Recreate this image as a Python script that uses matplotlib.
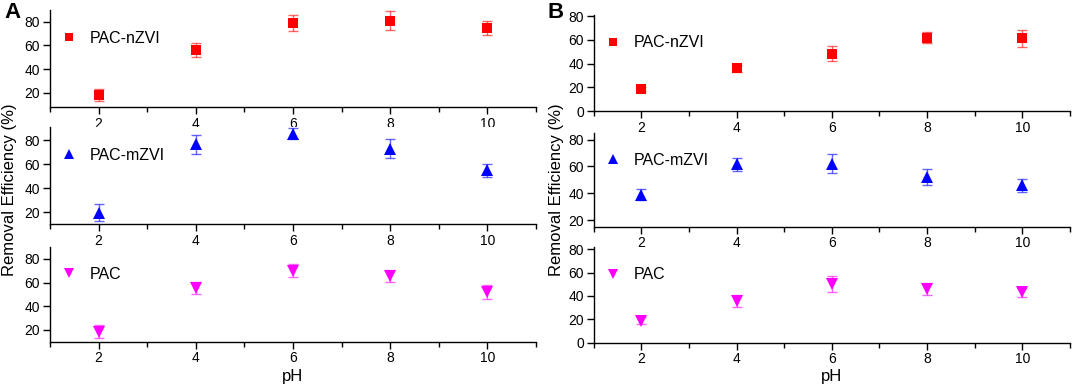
import matplotlib
matplotlib.use("Agg")
import matplotlib.pyplot as plt
from matplotlib.ticker import MultipleLocator
from matplotlib.lines import Line2D

plt.rcParams['font.family'] = ['Liberation Sans', 'DejaVu Sans']

ph = [2, 4, 6, 8, 10]

# panel A
a_nzvi = [18.3, 56.3, 79.0, 80.8, 75.0]
a_nzvi_err = [5.0, 6.0, 7.0, 8.0, 6.0]
a_mzvi = [19.5, 76.5, 85.5, 73.0, 55.0]
a_mzvi_err = [7.0, 8.0, 4.5, 8.0, 5.5]
a_pac = [18.5, 55.5, 70.0, 65.5, 52.0]
a_pac_err = [5.5, 5.0, 5.5, 5.0, 6.0]

# panel B
b_nzvi = [18.5, 36.0, 48.5, 62.0, 61.3]
b_nzvi_err = [2.0, 3.0, 6.0, 5.0, 7.0]
b_mzvi = [39.0, 61.5, 62.0, 52.0, 46.0]
b_mzvi_err = [4.0, 5.0, 7.0, 6.0, 5.0]
b_pac = [18.6, 36.0, 50.5, 46.0, 43.0]
b_pac_err = [3.0, 5.0, 7.0, 5.0, 4.0]

names = ["PAC-nZVI", "PAC-mZVI", "PAC"]
colors = ["#ff0000", "#0000ff", "#ff00ff"]
markers = ["s", "^", "v"]

fig = plt.figure(figsize=(10.72, 3.86), dpi=100)

panels = [
    ([a_nzvi, a_mzvi, a_pac], [a_nzvi_err, a_mzvi_err, a_pac_err],
     0.0466, 0.4534,
     [(0.7228, 0.2513), (0.4197, 0.2513), (0.1148, 0.2450)],
     [(8, 90), (10, 91), (10, 90)], [20, 20, 20]),
    ([b_nzvi, b_mzvi, b_pac], [b_nzvi_err, b_mzvi_err, b_pac_err],
     0.554, 0.444,
     [(0.7124, 0.2487), (0.4127, 0.2427), (0.1122, 0.2480)],
     [(0, 81), (15, 85), (0, 82)], [0, 20, 0]),
]

for series, errs, left, width, rows, ylims, ystart in panels:
    for i in range(3):
        bottom, height = rows[i]
        ax = fig.add_axes([left, bottom, width, height])
        ms = 7 if markers[i] == "s" else 8
        ax.errorbar(ph, series[i], yerr=errs[i], fmt='none',
                    ecolor=colors[i], elinewidth=1.0, capsize=3.5, capthick=1.0,
                    alpha=0.6)
        ax.plot(ph, series[i], markers[i], color=colors[i], markersize=ms,
                markeredgewidth=0)
        ax.set_xlim(1, 11)
        ax.set_ylim(*ylims[i])
        ax.set_xticks(ph)
        ax.xaxis.set_minor_locator(MultipleLocator(1))
        ax.set_yticks(range(ystart[i], 81, 20))
        ax.spines['top'].set_visible(False)
        ax.spines['right'].set_visible(False)
        ax.spines['left'].set_linewidth(1.0)
        ax.spines['bottom'].set_linewidth(1.0)
        ax.tick_params(which='both', direction='out', labelsize=10, width=1.0)
        ax.tick_params(which='major', length=5, pad=2)
        ax.tick_params(which='minor', length=3.5)
        handle = Line2D([], [], marker=markers[i], linestyle='none',
                        color=colors[i], markersize=ms - 1, markeredgewidth=0)
        ax.legend([handle], [names[i]], loc='center left',
                  bbox_to_anchor=(0.0, 0.71), frameon=False,
                  fontsize=11.5, handletextpad=0.8, borderaxespad=0.3,
                  handlelength=1.0)

fig.text(0.004, 0.995, "A", fontsize=16, fontweight='bold', va='top', ha='left')
fig.text(0.511, 0.995, "B", fontsize=16, fontweight='bold', va='top', ha='left')

fig.text(0.009, 1 - 190 / 386, "Removal Efficiency (%)", rotation=90,
         fontsize=12, va='center', ha='center')
fig.text(0.519, 1 - 190 / 386, "Removal Efficiency (%)", rotation=90,
         fontsize=12, va='center', ha='center')
fig.text(293 / 1072, 1 - 376 / 386, "pH", fontsize=12, va='center', ha='center')
fig.text(832 / 1072, 1 - 376 / 386, "pH", fontsize=12, va='center', ha='center')

fig.savefig("out.png", dpi=100)
